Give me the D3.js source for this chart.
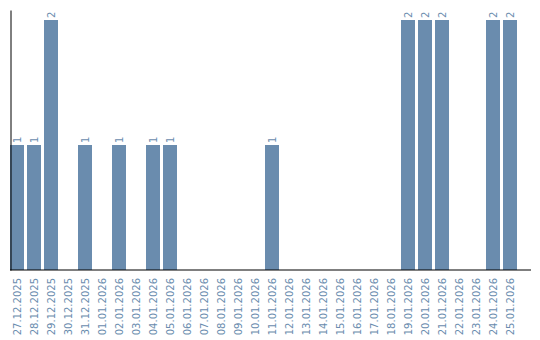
<!DOCTYPE html>
<html>
<head>
<meta charset="utf-8">
<script src="https://cdn.jsdelivr.net/npm/d3@7"></script>
<style>
  html, body { margin: 0; padding: 0; background: #fff; }
  svg { display: block; }
  text { font-family: "DejaVu Sans", Verdana, sans-serif; font-size: 10px; fill: #6a8cae; }
</style>
</head>
<body>
<svg id="chart" width="540" height="340"></svg>
<script>
const dates = [
  "27.12.2025","28.12.2025","29.12.2025","30.12.2025","31.12.2025",
  "01.01.2026","02.01.2026","03.01.2026","04.01.2026","05.01.2026",
  "06.01.2026","07.01.2026","08.01.2026","09.01.2026","10.01.2026",
  "11.01.2026","12.01.2026","13.01.2026","14.01.2026","15.01.2026",
  "16.01.2026","17.01.2026","18.01.2026","19.01.2026","20.01.2026",
  "21.01.2026","22.01.2026","23.01.2026","24.01.2026","25.01.2026"
];
const counts = [1,1,2,0,1, 0,1,0,1,1, 0,0,0,0,0, 1,0,0,0,0, 0,0,0,2,2, 2,0,0,2,2];

const svg = d3.select("#chart");
const barColor = "#6a8cae";

const x = d3.scaleBand()
  .domain(dates)
  .range([10, 517])
  .paddingInner(3 / 17)
  .paddingOuter(0);

const y = d3.scaleLinear()
  .domain([0, 2.08])
  .range([270, 10]);

const data = dates.map((d, i) => ({ date: d, value: counts[i] }));

// bars
svg.append("g")
  .selectAll("rect")
  .data(data.filter(d => d.value > 0))
  .join("rect")
  .attr("x", d => x(d.date))
  .attr("width", x.bandwidth())
  .attr("y", d => y(d.value))
  .attr("height", d => y(0) - y(d.value))
  .attr("fill", barColor);

// value labels
svg.append("g")
  .selectAll("text")
  .data(data.filter(d => d.value > 0))
  .join("text")
  .attr("transform", d => `translate(${x(d.date) + x.bandwidth() / 2},${y(d.value) - 2}) rotate(-90)`)
  .attr("dy", "0.35em")
  .attr("text-anchor", "start")
  .text(d => d.value);

// axes
const xAxis = d3.axisBottom(x).tickSize(0).tickPadding(0);
const gx = svg.append("g")
  .attr("transform", "translate(0,270)")
  .call(xAxis);
gx.select(".domain").remove();
gx.selectAll(".tick text")
  .attr("transform", "translate(0,8) rotate(-90)")
  .attr("y", 0)
  .attr("dy", "0.35em")
  .attr("text-anchor", "end")
  .attr("font-family", null)
  .attr("font-size", null)
  .style("fill", barColor);

svg.append("line")
  .attr("x1", 10).attr("x2", 531)
  .attr("y1", 270).attr("y2", 270)
  .attr("stroke", "#000").attr("stroke-width", 1.2);

const yAxis = d3.axisLeft(y).tickValues([]).tickSizeOuter(0);
const gy = svg.append("g")
  .attr("transform", "translate(10.5,0)")
  .call(yAxis);
gy.select(".domain").attr("stroke", "#000").attr("stroke-width", 1);
</script>
</body>
</html>
